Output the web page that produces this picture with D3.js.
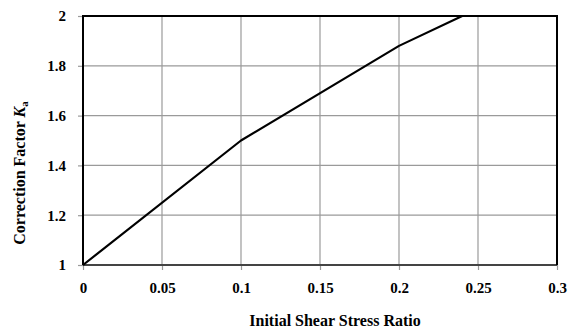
<!DOCTYPE html>
<html>
<head>
<meta charset="utf-8">
<script src="https://cdn.jsdelivr.net/npm/d3@7"></script>
<style>
  html, body { margin: 0; padding: 0; background: #fff; }
  svg { display: block; }
</style>
</head>
<body>
<svg id="chart" width="575" height="332"></svg>
<script>
// Correction factor versus initial shear stress ratio
const ratio = [0, 0.1, 0.2, 0.24];
const factor = [1, 1.5, 1.88, 2];
const xTicks = [0, 0.05, 0.1, 0.15, 0.2, 0.25, 0.3];
const yTicks = [1, 1.2, 1.4, 1.6, 1.8, 2];

(function draw() {
  const FONT = "'Liberation Serif', 'DejaVu Serif'";
  const svg = d3.select("#chart");
  const m = { left: 83, right: 557, top: 16, bottom: 265 };

  const x = d3.scaleLinear().domain([0, 0.3]).range([m.left, m.right]);
  const y = d3.scaleLinear().domain([1, 2]).range([m.bottom, m.top]);

  // grid
  svg.append("g").selectAll("line").data(xTicks.slice(1, -1)).join("line")
    .attr("x1", d => x(d)).attr("x2", d => x(d))
    .attr("y1", m.top).attr("y2", m.bottom)
    .attr("stroke", "#9a9a9a").attr("stroke-width", 1.2);
  svg.append("g").selectAll("line").data(yTicks.slice(1, -1)).join("line")
    .attr("x1", m.left).attr("x2", m.right)
    .attr("y1", d => y(d)).attr("y2", d => y(d))
    .attr("stroke", "#9a9a9a").attr("stroke-width", 1.2);

  // axes
  const xAxis = d3.axisBottom(x).tickValues(xTicks).tickSize(5).tickPadding(12)
    .tickFormat(d => String(+d.toFixed(2)));
  const gx = svg.append("g").attr("transform", `translate(0,${m.bottom})`).call(xAxis)
    .attr("font-family", null).attr("font-size", null);
  gx.select(".domain").remove();
  gx.selectAll(".tick line").attr("stroke", "#9a9a9a").attr("stroke-width", 1.2);
  gx.selectAll(".tick text").style("font-family", FONT).style("font-size", "15px")
    .style("font-weight", "bold").attr("fill", "#000");

  const yAxis = d3.axisLeft(y).tickValues(yTicks).tickSize(5).tickPadding(12)
    .tickFormat(d => String(+d.toFixed(1)));
  const gy = svg.append("g").attr("transform", `translate(${m.left},0)`).call(yAxis)
    .attr("font-family", null).attr("font-size", null);
  gy.select(".domain").remove();
  gy.selectAll(".tick line").attr("stroke", "#9a9a9a").attr("stroke-width", 1.2);
  gy.selectAll(".tick text").style("font-family", FONT).style("font-size", "15px")
    .style("font-weight", "bold").attr("fill", "#000");

  // plot frame
  svg.append("line").attr("x1", m.left).attr("x2", m.right).attr("y1", m.bottom).attr("y2", m.bottom)
    .attr("stroke", "#444").attr("stroke-width", 2);
  svg.append("path")
    .attr("d", `M${m.left},${m.bottom}V${m.top}H${m.right}V${m.bottom}`)
    .attr("fill", "none").attr("stroke", "#000").attr("stroke-width", 2);

  // curve
  const line = d3.line().x((d, i) => x(ratio[i])).y(d => y(d));
  svg.append("path").datum(factor)
    .attr("d", line)
    .attr("fill", "none").attr("stroke", "#000").attr("stroke-width", 2.2)
    .attr("stroke-linejoin", "round");

  // axis titles
  svg.append("text")
    .attr("x", 335).attr("y", 326)
    .attr("text-anchor", "middle")
    .style("font-family", FONT).style("font-size", "16px").style("font-weight", "bold")
    .text("Initial Shear Stress Ratio");

  const yt = svg.append("text")
    .attr("transform", "translate(25,173) rotate(-90)")
    .attr("text-anchor", "middle")
    .style("font-family", FONT).style("font-size", "16px").style("font-weight", "bold");
  yt.append("tspan").text("Correction Factor ");
  yt.append("tspan").style("font-style", "italic").text("K");
  yt.append("tspan").style("font-size", "11px").attr("dy", 3).text("a");
})();
</script>
</body>
</html>
